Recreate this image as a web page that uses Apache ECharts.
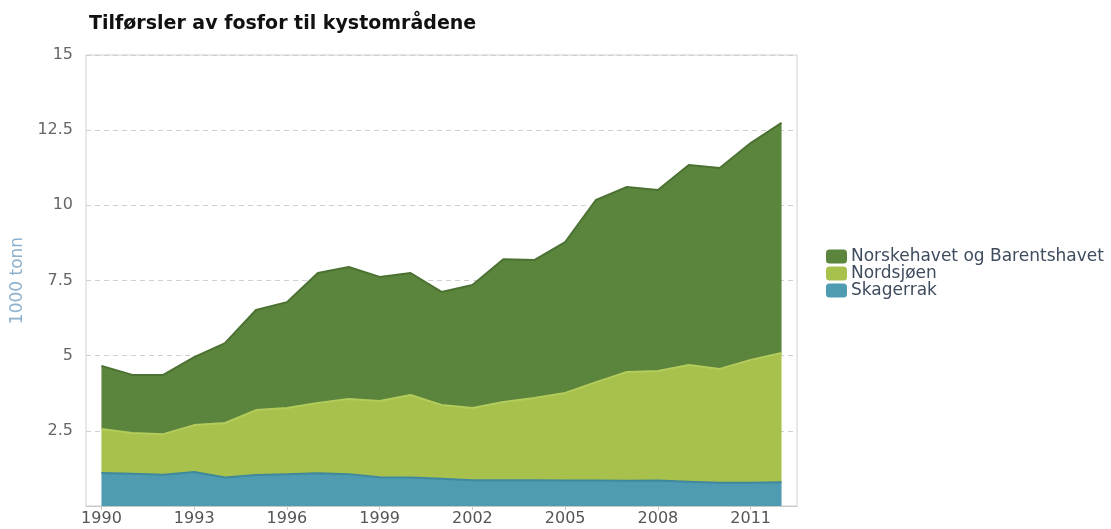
<!DOCTYPE html>
<html>
<head>
<meta charset="utf-8">
<script src="https://cdn.jsdelivr.net/npm/echarts@6/dist/echarts.min.js"></script>
<style>
  html, body { margin: 0; padding: 0; background: #fff; }
  #chart { width: 1111px; height: 529px; }
</style>
</head>
<body>
<div id="chart"></div>
<script>
const years = ['1990','1991','1992','1993','1994','1995','1996','1997','1998','1999','2000',
               '2001','2002','2003','2004','2005','2006','2007','2008','2009','2010','2011','2012'];
const skagerrak = [1.10,1.07,1.04,1.13,0.95,1.03,1.06,1.09,1.06,0.96,0.95,0.91,0.86,0.86,0.86,0.85,0.85,0.84,0.85,0.81,0.77,0.77,0.79];
const nordsjoen = [1.46,1.36,1.35,1.56,1.81,2.16,2.20,2.34,2.50,2.53,2.74,2.45,2.40,2.60,2.73,2.91,3.27,3.62,3.64,3.88,3.79,4.09,4.30];
const norskehavet = [2.10,1.93,1.97,2.26,2.66,3.33,3.52,4.32,4.39,4.13,4.06,3.76,4.09,4.75,4.59,5.02,6.06,6.15,6.02,6.65,6.68,7.21,7.65];

const font = 'DejaVu Sans, Verdana, sans-serif';
const chart = echarts.init(document.getElementById('chart'));

function layer(name, data, fill, edge) {
    return {
        name: name,
        type: 'line',
        stack: 'total',
        data: data,
        symbol: 'none',
        color: fill,
        lineStyle: { color: edge, width: 2 },
        areaStyle: { color: fill, opacity: 1 },
        emphasis: { disabled: true }
    };
}

chart.setOption({
    animation: false,
    title: {
        text: 'Tilførsler av fosfor til kystområdene',
        left: 84,
        top: 10,
        textStyle: { fontFamily: font, fontSize: 19, fontWeight: 'bold', color: '#111' }
    },
    legend: {
        orient: 'vertical',
        left: 821,
        top: 243,
        itemGap: 0,
        itemWidth: 21,
        itemHeight: 14,
        icon: 'roundRect',
        data: ['Norskehavet og Barentshavet', 'Nordsjøen', 'Skagerrak'],
        textStyle: { fontFamily: font, fontSize: 17, lineHeight: 17, color: '#3e4c5e', padding: [0, 0, 0, -1] }
    },
    grid: {
        left: 86,
        right: 314,
        top: 55,
        bottom: 23,
        show: true,
        borderColor: '#d0d0d0',
        borderWidth: 1
    },
    xAxis: {
        type: 'category',
        boundaryGap: true,
        data: years,
        axisLine: { lineStyle: { color: '#c8c8c8' } },
        axisTick: { show: true, alignWithLabel: true, interval: 2, length: 4, lineStyle: { color: '#c8c8c8' } },
        axisLabel: { interval: 2, fontFamily: font, fontSize: 16, color: '#555', margin: 5 }
    },
    yAxis: {
        type: 'value',
        min: 0,
        max: 15,
        interval: 2.5,
        name: '1000 tonn',
        nameLocation: 'middle',
        nameGap: 54,
        nameTextStyle: { fontFamily: font, fontSize: 17, color: '#8db1cf' },
        axisLine: { show: false },
        axisTick: { show: false },
        axisLabel: {
            fontFamily: font, fontSize: 16, color: '#666', margin: 13,
            formatter: v => (v === 0 ? '' : String(v))
        },
        splitLine: { lineStyle: { color: '#cfcfcf', type: [5, 4] } }
    },
    series: [
        layer('Skagerrak', skagerrak, '#4f9bb1', '#3f889e'),
        layer('Nordsjøen', nordsjoen, '#a7c14c', '#b3cc5c'),
        layer('Norskehavet og Barentshavet', norskehavet, '#5b843d', '#4b7232')
    ]
});
</script>
</body>
</html>
